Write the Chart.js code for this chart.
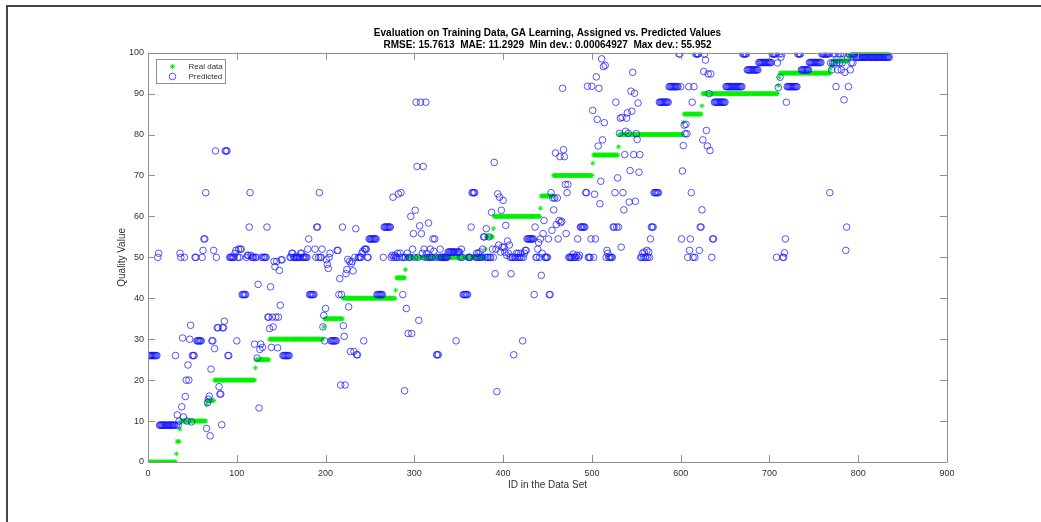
<!DOCTYPE html>
<html>
<head>
<meta charset="utf-8">
<script src="https://cdn.jsdelivr.net/npm/chart.js@4/dist/chart.umd.min.js"></script>
<style>
  body { margin: 0; background: #fff; }
  #wrap { position: relative; width: 1041px; height: 522px; }
  #frame { position: absolute; left: 6px; top: 5px; right: 0; bottom: 0; border-top: 2px solid #454545; border-left: 2px solid #454545; pointer-events: none; }
  canvas { position: absolute; left: 0; top: 0; }
</style>
</head>
<body>
<div id="wrap">
  <canvas id="evalChart" width="1041" height="522"></canvas>
  <div id="frame"></div>
</div>
<script>
// 실제 값 (값, 연속 개수) - ID 1부터 순서대로
const realRuns = [
  [0, 31], [2, 1], [5, 3], [8, 1], [10, 29], [14, 1], [15, 8], [20, 46], [23, 1], [25, 15],
  [30, 61], [33, 1], [35, 21], [40, 59], [42, 1], [45, 10], [47, 1], [50, 89], [52, 1], [55, 8],
  [57, 1], [60, 52], [62, 1], [65, 14], [70, 44], [73, 1], [75, 28], [77, 1], [80, 72], [83, 1],
  [85, 20], [87, 1], [90, 85], [92, 1], [94, 1], [95, 57], [96, 1], [97, 2], [98, 17], [99, 4],
  [100, 43]
];

// 예측 값 (값, 연속 개수)
const predictedRuns = [
  [26, 10], [50, 1], [51, 1], [9, 18], [26, 1], [9, 1], [11.5, 1], [9, 1], [10, 1],
  [51, 1], [50, 1], [13.5, 1], [30.3, 1], [11, 1], [50, 1], [16, 1], [20, 1], [10, 1], [23.7, 1],
  [20, 1], [30, 1], [33.4, 1], [9.8, 1], [26, 3], [50, 2], [29.6, 6], [50, 1], [51.7, 1], [54.5, 2],
  [65.8, 1], [8.2, 1], [14.5, 1], [15.3, 1], [16.1, 1], [6.4, 1], [22.7, 1], [29.6, 2], [51.7, 1],
  [27.7, 1], [76, 1], [50, 1], [32.8, 2], [18.4, 1], [16.6, 2], [9.1, 1], [32.8, 2], [34.4, 1],
  [76, 3], [26, 2], [50, 6], [51, 1], [51.7, 1], [29.6, 1], [50, 1], [52, 1], [50, 1], [52, 2],
  [40.9, 5], [50, 1], [50.5, 2], [57.4, 1], [65.8, 1], [50.5, 1], [50, 3], [28.8, 1], [50, 2],
  [25.4, 1], [43.4, 1], [13.2, 1], [27.5, 1], [28.8, 1], [50, 1], [28, 1], [50, 4], [57.4, 1],
  [35.4, 2], [32.6, 1], [42.8, 1], [28, 1], [35.4, 1], [33, 1], [49, 1], [47.7, 1], [35.4, 1],
  [49, 1], [27.9, 1], [35.4, 1], [46.8, 1], [38.3, 1], [49.4, 2], [26, 8], [50, 2], [51, 2],
  [50, 8], [51, 2], [50, 6], [52, 1], [54.5, 1], [40.9, 6], [52, 1], [50, 1], [57.4, 2], [50, 1],
  [65.8, 1], [50, 2], [52, 1], [33, 1], [35.8, 1], [29.6, 1], [37.5, 1], [49.4, 1], [48.3, 1],
  [47.3, 1], [50, 1], [51, 1], [29.6, 7], [51.7, 2], [40.9, 1], [44.8, 1], [18.8, 1], [40.9, 1],
  [57.4, 1], [33.3, 1], [30.7, 1], [18.8, 1], [46, 1], [47, 1], [49.5, 1], [37.9, 1], [49, 1],
  [27, 1], [48.5, 1], [49, 1], [46.7, 1], [27, 1], [50, 1], [57, 1], [26.2, 2], [50, 4], [51, 1],
  [51.5, 1], [29.6, 1], [52, 3], [50, 2], [54.5, 9], [40.9, 7], [50, 1], [57.4, 8], [50, 1],
  [50.5, 1], [64.7, 1], [50, 1], [50.5, 1], [50, 2], [51, 1], [65.5, 1], [50, 1], [51, 1],
  [65.8, 1], [50, 1], [40.9, 1], [50, 1], [17.4, 1], [50, 1], [37.5, 1], [51, 1], [31.4, 1],
  [50, 2], [60, 1], [31.4, 1], [52, 1], [55.8, 1], [50, 1], [61.5, 1], [87.9, 1], [72.2, 1],
  [50, 1], [34.6, 1], [57.7, 1], [87.9, 1], [55.8, 1], [51, 1], [72.2, 1], [52, 1], [50, 1],
  [87.9, 1], [51, 1], [50, 1], [58.4, 1], [50, 1], [52, 1], [50, 2], [54.5, 1], [51.5, 1],
  [54.5, 1], [50, 1], [26.2, 3], [50, 1], [52, 1], [50, 8], [51.3, 9], [29.6, 1], [51.3, 4],
  [50, 1], [52, 1], [50, 1], [40.9, 6], [50, 3], [57.4, 1], [65.8, 4], [50, 1], [51, 1], [50, 1],
  [51, 1], [50, 1], [51.3, 1], [50, 2], [52, 1], [55, 2], [50, 1], [57, 1], [50, 2], [55, 1],
  [50, 2], [61, 1], [52, 1], [50, 1], [73.2, 1], [46, 1], [52, 1], [17.2, 1], [65.5, 1], [53, 1],
  [64.7, 1], [51.3, 1], [61.5, 1], [52.5, 1], [63.9, 1], [52.5, 1], [51.3, 1], [57.8, 1],
  [50.5, 1], [54, 1], [51, 1], [53, 1], [50, 1], [46, 1], [50, 2], [26.2, 1], [50, 2], [51, 1],
  [50, 1], [51, 1], [50, 2], [51, 1], [50, 1], [29.6, 1], [50, 1], [51, 1], [51.7, 2], [54.5, 8],
  [40.9, 1], [57.4, 1], [50, 2], [52, 1], [53.6, 1], [50, 1], [54.5, 1], [45.6, 1], [51, 1],
  [55.8, 1], [59, 1], [50, 4], [54.5, 1], [40.9, 2], [65.8, 1], [56.6, 1], [64.5, 1], [61.6, 1],
  [64.5, 1], [75.5, 1], [58, 1], [64.5, 1], [54.5, 1], [59, 1], [74.6, 1], [58.5, 1], [58.8, 1],
  [91.3, 1], [76.3, 1], [74.6, 1], [67.8, 1], [55.8, 1], [65.8, 1], [67.8, 1], [50, 5], [50.8, 1],
  [50, 3], [50.5, 1], [54.5, 1], [50, 1], [50.5, 1], [57.4, 6], [65.8, 2], [91.8, 1], [50, 3],
  [54.5, 1], [91.8, 1], [85.9, 1], [50, 1], [65.4, 1], [54.5, 1], [94.1, 1], [83.7, 1], [77.2, 1],
  [91.3, 1], [63.1, 1], [68.6, 1], [98.5, 1], [78.7, 1], [96.6, 1], [82.9, 1], [96.9, 1], [50, 1],
  [51.7, 1], [51, 1], [50, 5], [57.4, 2], [65.8, 1], [87.9, 1], [57.4, 1], [69.4, 1], [57.4, 1],
  [80.3, 1], [84, 1], [52.5, 1], [84.2, 1], [65.8, 1], [61.6, 1], [75.1, 1], [80.8, 1], [84, 1],
  [85.3, 1], [80.3, 1], [63.5, 1], [71.2, 1], [90.6, 1], [85.7, 1], [95.2, 1], [75.1, 1],
  [90.1, 1], [63.7, 1], [80.2, 1], [78.8, 1], [87.7, 1], [70.8, 1], [75.1, 1], [50, 2], [51, 1],
  [50, 1], [51.3, 1], [50, 2], [51.7, 1], [50, 1], [51.3, 1], [50, 1], [54.5, 1], [57.4, 3],
  [65.8, 6], [87.9, 11], [91.7, 11], [99.7, 2], [91.7, 1], [54.5, 1], [71.1, 1], [77.3, 1],
  [82.3, 1], [80.2, 1], [82.5, 1], [80.2, 1], [50, 1], [91.7, 1], [51.7, 1], [54.5, 1], [65.8, 1],
  [87.9, 1], [50, 1], [91.7, 1], [50, 1], [99.7, 4], [51.7, 1], [57.4, 2], [61.6, 1], [78.7, 1],
  [95.4, 1], [99.7, 1], [98.2, 1], [81, 1], [77.2, 1], [94.8, 1], [90, 1], [76.1, 1], [94.8, 1],
  [50, 1], [54.5, 2], [87.9, 13], [91.7, 19], [99.7, 5], [95.8, 13], [97.6, 15], [99.7, 5],
  [50, 1], [97.5, 1], [91.5, 1], [99.7, 1], [94, 1], [98.9, 1], [99.7, 1], [50, 2], [51.1, 1],
  [54.5, 1], [87.9, 1], [91.7, 12], [99.7, 4], [95.8, 9], [97.6, 14], [99.7, 9], [65.8, 1],
  [97.5, 1], [95.8, 1], [97.5, 1], [99.7, 1], [97.5, 1], [99.7, 1], [91.7, 1], [97.5, 1],
  [95.8, 1], [99.7, 1], [97.5, 1], [99.7, 1], [95.8, 1], [97.5, 1], [99.7, 1], [88.5, 1],
  [95.2, 1], [51.7, 1], [57.4, 1], [98.9, 1], [91.7, 1], [99.7, 1], [95.8, 1], [97.5, 1],
  [99.7, 1], [97.5, 1], [99.7, 2], [98.9, 39]
];

const seriesNames = ["Real data", "Predicted"];
const titleLines = [
  "Evaluation on Training Data, GA Learning, Assigned vs. Predicted Values",
  "RMSE: 15.7613  MAE: 11.2929  Min dev.: 0.00064927  Max dev.: 55.952"
];
const xTicks = [0, 100, 200, 300, 400, 500, 600, 700, 800, 900];
const yTicks = [0, 10, 20, 30, 40, 50, 60, 70, 80, 90, 100];

// (값, 개수) 목록을 ID 순서의 점으로 풀기
const toPoints = (runs) => {
  const pts = [];
  let id = 1;
  runs.forEach(([v, n]) => {
    for (let k = 0; k < n; k++) pts.push({ x: id++, y: v });
  });
  return pts;
};

const FONT = '"Liberation Sans", Arial, Helvetica, sans-serif';
const AXIS_GRAY = "#8f8f8f";
const TEXT_GRAY = "#303030";
Chart.defaults.font.family = FONT;

// 축 박스와 안쪽 눈금 (네 변 모두)
const axesBox = {
  id: "axesBox",
  afterDatasetsDraw(chart) {
    const { ctx, chartArea: a, scales } = chart;
    const tl = 7;
    ctx.save();
    ctx.strokeStyle = AXIS_GRAY;
    ctx.lineWidth = 1;
    ctx.beginPath();
    ctx.rect(Math.round(a.left) + 0.5, Math.round(a.top) + 0.5,
      Math.round(a.right - a.left), Math.round(a.bottom - a.top));
    xTicks.forEach((t) => {
      const x = Math.round(scales.x.getPixelForValue(t)) + 0.5;
      ctx.moveTo(x, a.bottom); ctx.lineTo(x, a.bottom - tl);
      ctx.moveTo(x, a.top); ctx.lineTo(x, a.top + tl);
    });
    yTicks.forEach((t) => {
      const y = Math.round(scales.y.getPixelForValue(t)) + 0.5;
      ctx.moveTo(a.left, y); ctx.lineTo(a.left + tl, y);
      ctx.moveTo(a.right, y); ctx.lineTo(a.right - tl, y);
    });
    ctx.stroke();
    ctx.restore();
  }
};

// 왼쪽 위 범례 상자
const boxLegend = {
  id: "boxLegend",
  afterDraw(chart) {
    const { ctx, chartArea: a } = chart;
    const x0 = Math.round(a.left) + 8.5, y0 = Math.round(a.top) + 6.5;
    const w = 69, h = 24;
    ctx.save();
    ctx.fillStyle = "#fff";
    ctx.fillRect(x0, y0, w, h);
    ctx.strokeStyle = AXIS_GRAY;
    ctx.lineWidth = 1;
    ctx.strokeRect(x0, y0, w, h);
    chart.data.datasets.forEach((ds, i) => {
      const y = y0 + 7 + i * 10;
      ctx.strokeStyle = ds.borderColor;
      ctx.fillStyle = ds.backgroundColor;
      ctx.lineWidth = 1;
      Chart.helpers.drawPoint(ctx, { pointStyle: ds.pointStyle, radius: ds.pointRadius, borderWidth: 1 }, x0 + 16, y);
      ctx.fillStyle = TEXT_GRAY;
      ctx.font = "8px " + FONT;
      ctx.textBaseline = "middle";
      ctx.textAlign = "left";
      ctx.fillText(ds.label, x0 + 32, y);
    });
    ctx.restore();
  }
};

const ctx = document.getElementById("evalChart").getContext("2d");
const evalChart = new Chart(ctx, {
  type: "scatter",
  data: {
    datasets: [
      {
        label: seriesNames[0],
        data: toPoints(realRuns),
        pointStyle: "star",
        pointRadius: 2.5,
        borderWidth: 1,
        borderColor: "rgba(0,240,0,0.9)",
        backgroundColor: "rgba(0,240,0,0.9)",
        order: 1
      },
      {
        label: seriesNames[1],
        data: toPoints(predictedRuns),
        pointStyle: "circle",
        pointRadius: 3.3,
        borderWidth: 1,
        borderColor: "rgba(20,20,255,0.72)",
        backgroundColor: "rgba(0,0,0,0)",
        order: 0
      }
    ]
  },
  options: {
    responsive: false,
    animation: false,
    events: [],
    layout: { padding: { left: 100, right: 94, top: 0, bottom: 0 } },
    plugins: {
      legend: { display: false },
      tooltip: { enabled: false },
      title: {
        display: true,
        fullSize: false,
        text: titleLines,
        color: "#000",
        font: { size: 10, weight: "bold", lineHeight: 1.2 },
        padding: { top: 27, bottom: 1.7 }
      }
    },
    scales: {
      x: {
        type: "linear",
        min: 0,
        max: 900,
        afterFit: (s) => { s.height = 60; },
        afterBuildTicks: (s) => { s.ticks = xTicks.map((v) => ({ value: v })); },
        grid: { display: false, drawTicks: false },
        border: { display: false },
        ticks: { color: TEXT_GRAY, font: { size: 9 }, padding: 6, maxRotation: 0 },
        title: { display: true, text: "ID in the Data Set", color: TEXT_GRAY, font: { size: 10 }, padding: { top: 0, bottom: 31 } }
      },
      y: {
        type: "linear",
        min: 0,
        max: 100,
        afterFit: (s) => { s.width = 48; },
        afterBuildTicks: (s) => { s.ticks = yTicks.map((v) => ({ value: v })); },
        grid: { display: false, drawTicks: false },
        border: { display: false },
        ticks: { color: TEXT_GRAY, font: { size: 9 }, padding: 4 },
        title: { display: true, text: "Quality Value", color: TEXT_GRAY, font: { size: 10 }, padding: { top: 16, bottom: 0 } }
      }
    }
  },
  plugins: [axesBox, boxLegend]
});
</script>
</body>
</html>
